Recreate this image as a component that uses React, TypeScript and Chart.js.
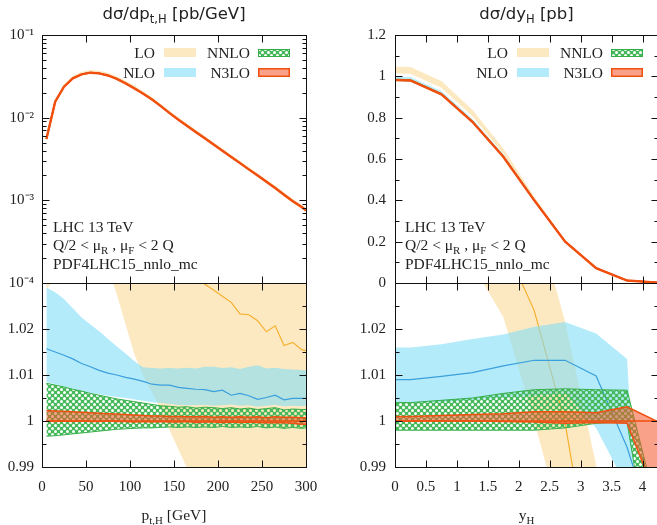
import React, { useEffect, useRef } from 'react';
import { Chart, registerables } from 'chart.js';
Chart.register(...registerables);

// ---------- transverse momentum panel (left) ----------
const ptH = [5, 15, 25, 35, 45, 55, 65, 75, 85, 95, 105, 115, 125, 135, 145, 155, 165, 175, 185, 195, 205, 215, 225, 235, 245, 255, 265, 275, 285, 295, 300];
// N3LO central prediction, pb/GeV
const ptN3LO = [5.52e-3, 1.56e-2, 2.37e-2, 2.99e-2, 3.34e-2, 3.5e-2, 3.43e-2, 3.24e-2, 2.95e-2, 2.6e-2, 2.26e-2, 1.95e-2, 1.66e-2, 1.38e-2, 1.135e-2, 9.44e-3, 7.94e-3, 6.68e-3, 5.62e-3, 4.73e-3, 3.98e-3, 3.35e-3, 2.82e-3, 2.37e-3, 2.0e-3, 1.68e-3, 1.41e-3, 1.17e-3, 9.77e-4, 8.32e-4, 7.6e-4];
// ratios to N3LO central
const ptLOlo = [1.0287, 1.031, 1.034, 1.036, 1.037, 1.037, 1.036, 1.033, 1.0275, 1.021, 1.0145, 1.0098, 1.0062, 1.0025, 0.998, 0.9938, 0.9897, 0.986, 0.982, 0.978, 0.975, 0.971, 0.968, 0.964, 0.961, 0.957, 0.954, 0.951, 0.948, 0.945, 0.944];
const ptLOc = [1.052, 1.056, 1.06, 1.062, 1.063, 1.063, 1.062, 1.06, 1.057, 1.053, 1.05, 1.047, 1.044, 1.041, 1.039, 1.037, 1.035, 1.032, 1.0297, 1.0285, 1.0271, 1.0258, 1.0233, 1.0231, 1.0218, 1.0194, 1.0207, 1.0164, 1.0171, 1.0155, 1.0153];
const ptLOhi = [1.07, 1.072, 1.075, 1.077, 1.078, 1.078, 1.078, 1.077, 1.076, 1.075, 1.074, 1.073, 1.072, 1.071, 1.07, 1.07, 1.069, 1.068, 1.068, 1.067, 1.067, 1.066, 1.066, 1.065, 1.065, 1.064, 1.064, 1.063, 1.063, 1.062, 1.062];
const ptNLOlo = [1.0085, 1.008, 1.0075, 1.007, 1.0065, 1.0061, 1.0058, 1.0055, 1.0052, 1.005, 1.0047, 1.0044, 1.0041, 1.0039, 1.0037, 1.0035, 1.0034, 1.0034, 1.0035, 1.0033, 1.0034, 1.0036, 1.0033, 1.0034, 1.0031, 1.0033, 1.0035, 1.0032, 1.0033, 1.0032, 1.0033];
const ptNLOc = [1.0157, 1.015, 1.0143, 1.0135, 1.0125, 1.0118, 1.011, 1.0104, 1.01, 1.0095, 1.0091, 1.0086, 1.008, 1.0078, 1.0078, 1.0073, 1.0071, 1.0069, 1.0068, 1.0064, 1.0067, 1.0056, 1.006, 1.0055, 1.0047, 1.0051, 1.0056, 1.0046, 1.0049, 1.0049, 1.0049];
const ptNLOhi = [1.029, 1.028, 1.0265, 1.0245, 1.0225, 1.021, 1.0195, 1.0178, 1.0162, 1.0147, 1.013, 1.0117, 1.0115, 1.0114, 1.0115, 1.0114, 1.0116, 1.0114, 1.0118, 1.0118, 1.0115, 1.0117, 1.0113, 1.0118, 1.0121, 1.0114, 1.0116, 1.0113, 1.0112, 1.0111, 1.011];
const ptNNLOlo = [0.9967, 0.9968, 0.997, 0.9972, 0.9974, 0.9976, 0.9978, 0.998, 0.9982, 0.9983, 0.9984, 0.9985, 0.9985, 0.9986, 0.9987, 0.9986, 0.9987, 0.9986, 0.9987, 0.9986, 0.9988, 0.9986, 0.9987, 0.9986, 0.9988, 0.9985, 0.9987, 0.9984, 0.9986, 0.9984, 0.9985];
const ptNNLOhi = [1.0082, 1.0078, 1.0074, 1.0069, 1.0065, 1.006, 1.0056, 1.0052, 1.0048, 1.0045, 1.0042, 1.0039, 1.0036, 1.0033, 1.0032, 1.003, 1.0031, 1.0028, 1.003, 1.0029, 1.0027, 1.0029, 1.0026, 1.0028, 1.0025, 1.0027, 1.0029, 1.0024, 1.0026, 1.0025, 1.0025];
const ptN3LOlo = [1.0, 0.9999, 1.0, 0.9999, 1.0, 0.9999, 0.9999, 1.0, 0.9999, 0.9999, 0.9998, 0.9999, 0.9998, 0.9999, 0.9998, 0.9998, 0.9999, 0.9997, 0.9998, 0.9998, 0.9997, 0.9998, 0.9997, 0.9998, 0.9997, 0.9996, 0.9997, 0.9996, 0.9995, 0.9993, 0.9993];
const ptN3LOhi = [1.0023, 1.0022, 1.0021, 1.002, 1.0019, 1.0018, 1.0017, 1.0016, 1.0015, 1.0014, 1.0013, 1.0012, 1.0011, 1.0011, 1.001, 1.001, 1.0009, 1.0009, 1.001, 1.0008, 1.0009, 1.0008, 1.0009, 1.0008, 1.0009, 1.0007, 1.0009, 1.0008, 1.0008, 1.0007, 1.0007];

// ---------- rapidity panel (right) ----------
const yH = [0, 0.25, 0.75, 1.25, 1.75, 2.25, 2.75, 3.25, 3.75, 4.25];
const yN3LO = [0.982, 0.98, 0.913, 0.78, 0.611, 0.4, 0.2, 0.072, 0.012, 0.002];
const yLOlo = [1.032, 1.033, 1.035, 1.034, 1.0226, 1.0, 0.975, 0.93, 0.85, 0.7];
const yLOc = [1.048, 1.048, 1.052, 1.055, 1.039, 1.024, 0.9995, 0.96, 0.89, 0.75];
const yLOhi = [1.066, 1.066, 1.07, 1.075, 1.065, 1.046, 1.0215, 0.9905, 0.93, 0.8];
const yNLOlo = [1.004, 1.004, 1.004, 1.0045, 1.005, 1.0055, 1.006, 0.9985, 0.9855, 0.96];
const yNLOc = [1.009, 1.009, 1.0097, 1.0105, 1.012, 1.0132, 1.0132, 1.0098, 0.9943, 0.973];
const yNLOhi = [1.016, 1.016, 1.0167, 1.0178, 1.0188, 1.0205, 1.0215, 1.019, 1.0135, 0.9];
const yNNLOlo = [0.998, 0.998, 0.998, 0.998, 0.998, 0.998, 0.9985, 0.9995, 0.9998, 0.959];
const yNNLOhi = [1.004, 1.004, 1.0045, 1.005, 1.006, 1.0068, 1.007, 1.0068, 1.0067, 0.98];
const yN3LOlo = [1.0, 1.0, 1.0, 1.0, 0.9999, 0.9998, 0.9995, 0.9997, 0.9995, 0.9825];
const yN3LOhi = [1.001, 1.001, 1.0012, 1.0014, 1.0016, 1.002, 1.002, 1.0018, 1.0031, 0.9998];

// ---------- ticks ----------
const ptTicks = [0, 50, 100, 150, 200, 250, 300];
const ptTickLabels = ['0', '50', '100', '150', '200', '250', '300'];
const yHTicks = [0, 0.5, 1, 1.5, 2, 2.5, 3, 3.5, 4];
const yHTickLabels = ['0', '0.5', '1', '1.5', '2', '2.5', '3', '3.5', '4'];
const logTicks = [1e-4, 1e-3, 1e-2, 1e-1];
const logTickLabels = ['10⁻⁴', '10⁻³', '10⁻²', '10⁻¹'];
const logMinor = [2e-4, 3e-4, 4e-4, 5e-4, 6e-4, 7e-4, 8e-4, 9e-4, 2e-3, 3e-3, 4e-3, 5e-3, 6e-3, 7e-3, 8e-3, 9e-3, 2e-2, 3e-2, 4e-2, 5e-2, 6e-2, 7e-2, 8e-2, 9e-2];
const linTicks = [0, 0.2, 0.4, 0.6, 0.8, 1, 1.2];
const linTickLabels = ['0', '0.2', '0.4', '0.6', '0.8', '1', '1.2'];
const linMinor = [0.1, 0.3, 0.5, 0.7, 0.9, 1.1];
const ratioTicks = [0.99, 1, 1.01, 1.02];
const ratioTickLabels = ['0.99', '1', '1.01', '1.02'];
const ratioMinor = [0.995, 1.005, 1.015, 1.025];
const legendLabels = ['LO', 'NLO', 'NNLO', 'N3LO'];

const SERIF = '"Liberation Serif", "Times New Roman", serif';
const SANS = '"DejaVu Sans", sans-serif';
const TEXT = '#222';
const LO_FILL = 'rgba(250,200,100,0.4)';
const LO_LINE = '#f5b030';
const NLO_FILL = 'rgba(130,222,247,0.6)';
const NLO_LINE = '#3a9fdc';
const NNLO_LINE = '#34ad48';
const N3LO_FILL = 'rgba(245,85,40,0.55)';
const N3LO_LINE = '#f0500f';
const NONE = 'rgba(0,0,0,0)';

function makeHatch(): any {
  const c = document.createElement('canvas');
  c.width = 6;
  c.height = 6;
  const g = c.getContext('2d')!;
  g.fillStyle = 'rgb(70,185,90)';
  g.fillRect(0, 0, 6, 6);
  g.globalCompositeOperation = 'destination-out';
  for (const [cx, cy] of [[1.5, 1.5], [4.5, 4.5]]) {
    g.beginPath();
    g.arc(cx, cy, 1.5, 0, Math.PI * 2);
    g.fill();
  }
  return g.createPattern(c, 'repeat');
}

const framePlugin = {
  id: 'gnuFrame',
  afterDatasetsDraw(chart: any, _args: any, opts: any) {
    const { ctx, chartArea: a } = chart;
    const xs = chart.scales.x;
    const ys = chart.scales.y;
    const L = Math.round(a.left) + 0.5;
    const R = Math.round(a.right) + 0.5;
    const T = Math.round(a.top) + 0.5;
    const B = Math.round(a.bottom) + 0.5;
    ctx.save();
    ctx.strokeStyle = '#111';
    ctx.lineWidth = 1;
    ctx.beginPath();
    const xt = (v: number, len: number) => {
      const p = Math.round(xs.getPixelForValue(v)) + 0.5;
      if (p <= L + 1 || p >= R - 1) return;
      ctx.moveTo(p, B); ctx.lineTo(p, B - len);
      ctx.moveTo(p, T); ctx.lineTo(p, T + len);
    };
    const yt = (v: number, len: number) => {
      const p = Math.round(ys.getPixelForValue(v)) + 0.5;
      if (p <= T + 1 || p >= B - 1) return;
      ctx.moveTo(L, p); ctx.lineTo(L + len, p);
      ctx.moveTo(R, p); ctx.lineTo(R - len, p);
    };
    (opts.xMajor || []).forEach((v: number) => xt(v, 7));
    (opts.yMajor || []).forEach((v: number) => yt(v, 7));
    (opts.yMinor || []).forEach((v: number) => yt(v, 4));
    ctx.stroke();
    ctx.strokeRect(L, T, R - L, B - T);

    if (opts.legend) {
      const lx = a.left;
      const ty = a.top;
      ctx.font = `15.5px ${SERIF}`;
      ctx.fillStyle = TEXT;
      ctx.textAlign = 'right';
      ctx.textBaseline = 'alphabetic';
      ctx.fillText(legendLabels[0], lx + 113, ty + 22.5);
      ctx.fillText(legendLabels[1], lx + 113, ty + 42.5);
      ctx.fillText(legendLabels[2], lx + 208, ty + 22.5);
      ctx.fillText(legendLabels[3], lx + 208, ty + 42.5);
      ctx.fillStyle = LO_FILL;
      ctx.fillRect(lx + 122, ty + 13, 32, 9);
      ctx.fillStyle = NLO_FILL;
      ctx.fillRect(lx + 122, ty + 33, 32, 9);
      ctx.fillStyle = opts.hatch;
      ctx.fillRect(lx + 216, ty + 14, 32, 8);
      ctx.strokeStyle = NNLO_LINE;
      ctx.lineWidth = 1;
      ctx.strokeRect(lx + 216.5, ty + 14.5, 31, 7);
      ctx.fillStyle = N3LO_FILL;
      ctx.fillRect(lx + 216, ty + 33, 32, 9);
      ctx.strokeStyle = N3LO_LINE;
      ctx.lineWidth = 1.5;
      ctx.strokeRect(lx + 216.75, ty + 33.75, 30.5, 7.5);
    }
    ctx.restore();
  },
};

function buildDatasets(xs: number[], central: number[], bands: any, ratio: boolean, hatch: any) {
  const pts = (arr: number[]) => xs.map((x, i) => ({ x, y: ratio ? arr[i] : arr[i] * central[i] }));
  const base = { pointRadius: 0, tension: 0, clip: 0, borderWidth: 1, borderColor: NONE, fill: false };
  const ds: any[] = [];
  ds.push({ ...base, data: pts(bands.loLo), order: 100 });
  ds.push({ ...base, data: pts(bands.loHi), order: 99, fill: '-1', backgroundColor: LO_FILL });
  if (ratio) ds.push({ ...base, data: pts(bands.loC), order: 98, borderWidth: 1.2, borderColor: LO_LINE });
  ds.push({ ...base, data: pts(bands.nloLo), order: 90 });
  ds.push({ ...base, data: pts(bands.nloHi), order: 89, fill: '-1', backgroundColor: NLO_FILL });
  if (ratio) ds.push({ ...base, data: pts(bands.nloC), order: 88, borderWidth: 1.2, borderColor: NLO_LINE });
  ds.push({ ...base, data: pts(bands.nnloLo), order: 80, borderWidth: 1, borderColor: NNLO_LINE });
  ds.push({ ...base, data: pts(bands.nnloHi), order: 79, fill: '-1', backgroundColor: hatch, borderWidth: 1, borderColor: NNLO_LINE });
  ds.push({ ...base, data: pts(bands.n3loLo), order: 70, borderWidth: 1.5, borderColor: N3LO_LINE });
  ds.push({ ...base, data: pts(bands.n3loHi), order: 69, fill: '-1', backgroundColor: N3LO_FILL, borderWidth: 1.5, borderColor: N3LO_LINE });
  // N3LO central: the absolute curve in the main panel, the normalisation (ratio 1) in the ratio panel
  ds.push({
    ...base,
    data: xs.map((x, i) => ({ x, y: ratio ? 1 : central[i] })),
    order: 68,
    borderWidth: ratio ? 1.5 : 2.4,
    borderColor: N3LO_LINE,
  });
  return ds;
}

function makeConfig(p: any) {
  const font = { family: SERIF, size: 15 };
  return {
    type: 'line',
    data: { datasets: p.datasets },
    plugins: [framePlugin],
    options: {
      responsive: false,
      animation: false,
      devicePixelRatio: 1,
      layout: { padding: p.padding },
      plugins: {
        legend: { display: false },
        tooltip: { enabled: false },
        gnuFrame: { xMajor: p.xTicks, yMajor: p.yTicks, yMinor: p.yMinor, legend: p.legend, hatch: p.hatch },
      },
      scales: {
        x: {
          type: 'linear',
          min: p.xMin,
          max: p.xMax,
          afterBuildTicks: (s: any) => { s.ticks = p.xTicks.map((v: number) => ({ value: v })); },
          afterFit: (s: any) => { s.height = p.xHeight; },
          ticks: {
            display: !!p.xLabels,
            autoSkip: false,
            maxRotation: 0,
            padding: 11,
            font,
            color: TEXT,
            callback: (_v: any, i: number) => (p.xLabels ? p.xLabels[i] : ''),
          },
          grid: { display: false, drawTicks: false },
          border: { display: false },
        },
        y: {
          type: p.yType,
          min: p.yMin,
          max: p.yMax,
          afterBuildTicks: (s: any) => { s.ticks = p.yTicks.map((v: number) => ({ value: v })); },
          afterFit: (s: any) => { s.width = p.yWidth; },
          ticks: {
            autoSkip: false,
            padding: p.yPad,
            font,
            color: TEXT,
            callback: (_v: any, i: number) => p.yLabels[i],
          },
          grid: { display: false, drawTicks: false },
          border: { display: false },
        },
      },
    },
  };
}

const Sub = ({ children }: any) => (
  <span style={{ fontSize: '0.7em', position: 'relative', top: '0.35em' }}>{children}</span>
);

export default function App() {
  const tl = useRef<HTMLCanvasElement>(null);
  const tr = useRef<HTMLCanvasElement>(null);
  const bl = useRef<HTMLCanvasElement>(null);
  const br = useRef<HTMLCanvasElement>(null);

  useEffect(() => {
    const hatch = makeHatch();
    const ptBands = {
      loLo: ptLOlo, loC: ptLOc, loHi: ptLOhi,
      nloLo: ptNLOlo, nloC: ptNLOc, nloHi: ptNLOhi,
      nnloLo: ptNNLOlo, nnloHi: ptNNLOhi,
      n3loLo: ptN3LOlo, n3loHi: ptN3LOhi,
    };
    const yBands = {
      loLo: yLOlo, loC: yLOc, loHi: yLOhi,
      nloLo: yNLOlo, nloC: yNLOc, nloHi: yNLOhi,
      nnloLo: yNNLOlo, nnloHi: yNNLOhi,
      n3loLo: yN3LOlo, n3loHi: yN3LOhi,
    };
    const charts: Chart[] = [];
    charts.push(new Chart(tl.current!, makeConfig({
      datasets: buildDatasets(ptH, ptN3LO, ptBands, false, hatch),
      padding: { left: 0, top: 35, right: 24, bottom: 27 },
      xMin: 0, xMax: 300, xTicks: ptTicks, xLabels: null, xHeight: 0,
      yType: 'logarithmic', yMin: 1e-4, yMax: 1e-1, yTicks: logTicks, yLabels: logTickLabels, yMinor: logMinor,
      yWidth: 42, yPad: 8, legend: true, hatch,
    }) as any));
    charts.push(new Chart(tr.current!, makeConfig({
      datasets: buildDatasets(yH, yN3LO, yBands, false, hatch),
      padding: { left: 0, top: 35, right: 12, bottom: 27 },
      xMin: 0, xMax: 4.25, xTicks: yHTicks, xLabels: null, xHeight: 0,
      yType: 'linear', yMin: 0, yMax: 1.2, yTicks: linTicks, yLabels: linTickLabels, yMinor: linMinor,
      yWidth: 65, yPad: 9, legend: true, hatch,
    }) as any));
    charts.push(new Chart(bl.current!, makeConfig({
      datasets: buildDatasets(ptH, ptN3LO, ptBands, true, hatch),
      padding: { left: 0, top: 33, right: 24, bottom: 0 },
      xMin: 0, xMax: 300, xTicks: ptTicks, xLabels: ptTickLabels, xHeight: 58,
      yType: 'linear', yMin: 0.99, yMax: 1.03, yTicks: ratioTicks, yLabels: ratioTickLabels, yMinor: ratioMinor,
      yWidth: 42, yPad: 8, legend: false, hatch,
    }) as any));
    charts.push(new Chart(br.current!, makeConfig({
      datasets: buildDatasets(yH, yN3LO, yBands, true, hatch),
      padding: { left: 0, top: 33, right: 12, bottom: 0 },
      xMin: 0, xMax: 4.25, xTicks: yHTicks, xLabels: yHTickLabels, xHeight: 58,
      yType: 'linear', yMin: 0.99, yMax: 1.03, yTicks: ratioTicks, yLabels: ratioTickLabels, yMinor: ratioMinor,
      yWidth: 65, yPad: 9, legend: false, hatch,
    }) as any));
    return () => charts.forEach((c) => c.destroy());
  }, []);

  const abs = (l: number, t: number): React.CSSProperties => ({ position: 'absolute', left: l, top: t });
  const txt: React.CSSProperties = { position: 'absolute', font: `15.5px ${SERIF}`, lineHeight: '18px', color: TEXT, whiteSpace: 'nowrap' };
  const title: React.CSSProperties = { position: 'absolute', font: `16.5px ${SANS}`, lineHeight: '20px', color: TEXT, whiteSpace: 'nowrap', textAlign: 'center' };

  const annot = (left: number) => (
    <div style={{ ...txt, left, top: 218 }}>
      <div>LHC 13 TeV</div>
      <div>Q/2 &lt; μ<Sub>R</Sub> , μ<Sub>F</Sub> &lt; 2 Q</div>
      <div>PDF4LHC15_nnlo_mc</div>
    </div>
  );

  return (
    <div style={{ position: 'fixed', left: 0, top: 0, width: 657, height: 525, overflow: 'hidden', background: '#fff' }}>
      <canvas ref={tl} width={330} height={310} style={abs(0, 0)} />
      <canvas ref={tr} width={340} height={310} style={abs(330, 0)} />
      <canvas ref={bl} width={330} height={275} style={abs(0, 250)} />
      <canvas ref={br} width={340} height={275} style={abs(330, 250)} />
      <div style={{ ...title, left: 42, width: 264, top: 4 }}>dσ/dp<Sub>t,H</Sub> [pb/GeV]</div>
      <div style={{ ...title, left: 395, width: 263, top: 4 }}>dσ/dy<Sub>H</Sub> [pb]</div>
      {annot(53)}
      {annot(405)}
      <div style={{ ...txt, left: 42, width: 264, top: 506, textAlign: 'center' }}>p<Sub>t,H</Sub> [GeV]</div>
      <div style={{ ...txt, left: 395, width: 263, top: 506, textAlign: 'center' }}>y<Sub>H</Sub></div>
    </div>
  );
}
